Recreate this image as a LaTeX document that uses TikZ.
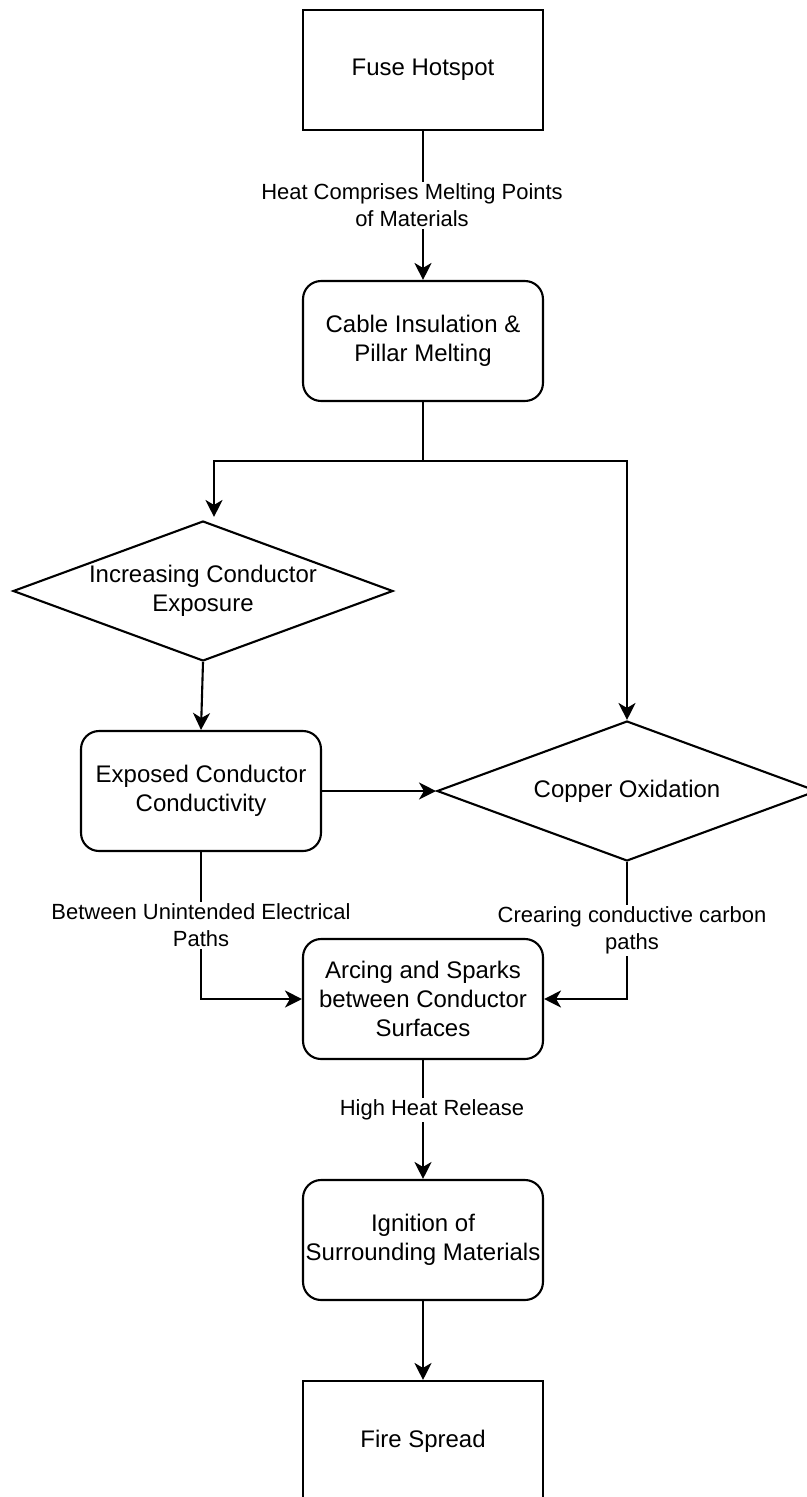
\documentclass[tikz,border=0pt]{standalone}
\usepackage{fontspec}
\setmainfont{Liberation Sans}
\usetikzlibrary{arrows.meta,shapes.geometric,backgrounds}

\tikzset{
    box/.style={draw, line width=1.2pt, minimum width=4.8cm, minimum height=2.4cm, inner xsep=0pt, inner ysep=2pt, align=center, font=\fontsize{13.65}{16.5}\selectfont},
    roundbox/.style={box, rounded corners=0.36cm},
    decision/.style={draw, line width=1.2pt, diamond, aspect=2.7, inner sep=0pt, minimum width=7.6cm, minimum height=2.8cm, align=center, font=\fontsize{13.65}{16.5}\selectfont},
    lbl/.style={fill=white, inner sep=1pt, align=center, font=\fontsize{12.5}{15.4}\selectfont},
    link/.style={-{Stealth[length=0.34cm, width=0.34cm, inset=0.1cm]}, line width=1.2pt}
}

\begin{document}
\begin{tikzpicture}[x=0.02cm, y=-0.02cm]

\useasboundingbox (0, 0) rectangle (807, 1497);

\node[box] (fuse) at (423, 70) {Fuse Hotspot};
\node[roundbox] (cable) at (423, 341) {Cable Insulation \&\\Pillar Melting};
\node[decision] (exposure) at (203, 591) {Increasing Conductor\\Exposure};
\node[roundbox] (conductivity) at (201, 791) {Exposed Conductor\\Conductivity};
\node[decision] (oxidation) at (627, 791) {Copper Oxidation};
\node[roundbox] (arcing) at (423, 999) {Arcing and Sparks\\between Conductor\\Surfaces};
\node[roundbox] (ignition) at (423, 1240) {Ignition of\\Surrounding Materials};
\node[box] (fire) at (423, 1441) {Fire Spread};

\begin{pgfonlayer}{background}
\draw[link] (fuse) -- node[lbl, xshift=-0.22cm]{Heat Comprises Melting Points\\of Materials} (cable);

\coordinate (split) at (423, 461);
\draw[line width=1.2pt] (cable.south) -- (split);
\draw[link] (split) -| ([xshift=0.22cm, yshift=0.06cm]exposure.north);
\draw[link] (split) -| (oxidation.north);

\draw[link] (exposure.south) -- (conductivity.north);
\draw[link] (conductivity.east) -- (oxidation.west);

\draw[link] (conductivity.south) |- node[lbl, pos=0.25]{Between Unintended Electrical\\Paths} (arcing.west);
\draw[link] (oxidation.south) |- node[lbl, pos=0.25, xshift=0.1cm]{Crearing conductive carbon\\paths} (arcing.east);

\draw[link] (arcing) -- node[lbl, pos=0.42, xshift=0.18cm]{High Heat Release} (ignition);
\draw[link] (ignition) -- (fire);
\end{pgfonlayer}

\end{tikzpicture}
\end{document}
